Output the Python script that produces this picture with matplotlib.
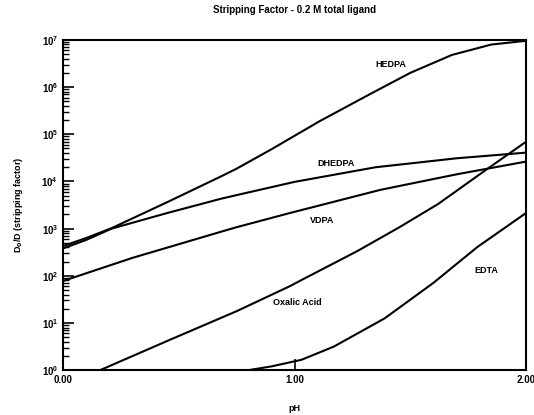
import numpy as np
import matplotlib
matplotlib.use("Agg")
import matplotlib.pyplot as plt
from matplotlib.ticker import LogLocator, FixedLocator, FormatStrFormatter

# values: pH and log10 of the stripping factor
hedpa_ph = [0.00, 0.10, 0.21, 0.45, 0.68, 0.75, 0.90, 1.11, 1.33, 1.50, 1.68, 1.85, 2.00]
hedpa_log = [2.63, 2.80, 3.01, 3.56, 4.10, 4.27, 4.68, 5.28, 5.86, 6.30, 6.68, 6.90, 6.98]

dhedpa_ph = [0.00, 0.10, 0.21, 0.45, 0.68, 0.75, 1.00, 1.35, 1.70, 2.00]
dhedpa_log = [2.58, 2.76, 3.00, 3.33, 3.63, 3.71, 3.99, 4.30, 4.49, 4.61]

vdpa_ph = [0.00, 0.30, 0.68, 0.75, 0.98, 1.37, 1.70, 2.00]
vdpa_log = [1.89, 2.38, 2.93, 3.03, 3.33, 3.82, 4.15, 4.42]

oxalic_ph = [0.16, 0.46, 0.75, 0.98, 1.03, 1.27, 1.45, 1.62, 1.82, 2.00]
oxalic_log = [0.00, 0.64, 1.25, 1.78, 1.91, 2.52, 3.02, 3.52, 4.22, 4.84]

edta_ph = [0.80, 0.90, 1.03, 1.17, 1.39, 1.60, 1.79, 2.00]
edta_log = [0.00, 0.08, 0.22, 0.50, 1.10, 1.85, 2.61, 3.33]

plt.rcParams['font.family'] = ['Liberation Sans', 'DejaVu Sans']
plt.rcParams['font.weight'] = 'bold'

fig = plt.figure(figsize=(5.34, 4.15), dpi=100)
ax = fig.add_axes([0.118, 0.108, 0.867, 0.796])

for X, Y in [(hedpa_ph, hedpa_log), (dhedpa_ph, dhedpa_log), (vdpa_ph, vdpa_log),
             (oxalic_ph, oxalic_log), (edta_ph, edta_log)]:
    ax.plot(X, 10 ** np.array(Y), c='black', lw=1.5, solid_joinstyle='round')

ax.set_yscale('log')
ax.set_xlim(0, 2)
ax.set_ylim(1, 1e7)

ax.xaxis.set_major_locator(FixedLocator([0, 1, 2]))
ax.xaxis.set_major_formatter(FormatStrFormatter('%.2f'))
ax.yaxis.set_major_locator(LogLocator(base=10, numticks=10))
ax.yaxis.set_minor_locator(LogLocator(base=10, subs=np.arange(2, 10), numticks=10))

ax.tick_params(which='both', direction='in', top=False, right=False, labelsize=7)
ax.tick_params(which='major', length=8, width=1.2)
ax.tick_params(which='minor', length=4, width=1)
for lab in ax.get_xticklabels() + ax.get_yticklabels():
    lab.set_fontweight('bold')
for s in ax.spines.values():
    s.set_linewidth(1.5)

ax.text(1.415, 10 ** 6.48, 'HEDPA', fontsize=6.5, fontweight='bold', ha='center', va='center')
ax.text(1.18, 10 ** 4.39, 'DHEDPA', fontsize=6.5, fontweight='bold', ha='center', va='center')
ax.text(1.12, 10 ** 3.18, 'VDPA', fontsize=6.5, fontweight='bold', ha='center', va='center')
ax.text(1.01, 10 ** 1.44, 'Oxalic Acid', fontsize=6.5, ha='center', va='center')
ax.text(1.83, 10 ** 2.12, 'EDTA', fontsize=6.5, fontweight='bold', ha='center', va='center')

ax.set_title('Stripping Factor - 0.2 M total ligand', fontsize=7, fontweight='bold', pad=19)
ax.set_xlabel('pH', fontsize=6.5, fontweight='bold', labelpad=14)
ax.set_ylabel('D$_0$/D (stripping factor)', fontsize=6.5, fontweight='bold', labelpad=12)

plt.savefig('out.png', dpi=100)
